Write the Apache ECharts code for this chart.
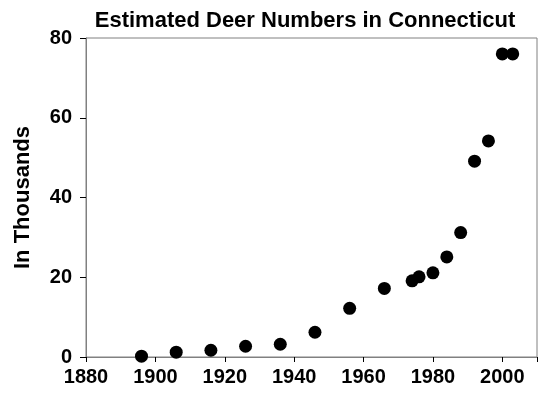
<!DOCTYPE html>
<html><head><meta charset="utf-8">
<script src="https://cdn.jsdelivr.net/npm/echarts@6/dist/echarts.min.js"></script>
<style>html,body{margin:0;padding:0;background:#fff}#c{width:540px;height:400px}</style>
</head><body><div id="c"></div>
<script>
const years = [1896, 1906, 1916, 1926, 1936, 1946, 1956, 1966, 1974, 1976, 1980, 1984, 1988, 1992, 1996, 2000, 2003];
const deer  = [0.2, 1.2, 1.7, 2.7, 3.2, 6.2, 12.2, 17.2, 19.1, 20.1, 21.1, 25.1, 31.2, 49.1, 54.2, 76, 76];
const titleText = 'Estimated Deer Numbers in Connecticut';
const yName = 'In Thousands';

const font = 'Arial, "Liberation Sans", sans-serif';
const chart = echarts.init(document.getElementById('c'));
chart.setOption({
  animation: false,
  title: { text: titleText, left: 300, top: 5, textAlign: 'center',
    textStyle: { fontFamily: font, fontWeight: 'bold', fontSize: 22, color: '#000' } },
  grid: { left: 86, right: 1, top: 38, bottom: 43, show: true, borderColor: '#808080', borderWidth: 1 },
  xAxis: { type: 'value', min: 1880, max: 2010, interval: 20,
    axisLine: { onZero: false, lineStyle: { color: '#808080', width: 1 } },
    axisTick: { show: true, length: 5, lineStyle: { color: '#000' } },
    splitLine: { show: false },
    axisLabel: { fontFamily: font, fontWeight: 'bold', fontSize: 20, color: '#000', margin: 10,
      formatter: v => v > 2000 ? '' : String(v) } },
  yAxis: { type: 'value', min: 0, max: 80, interval: 20,
    name: yName, nameLocation: 'middle', nameGap: 52, nameRotate: 90,
    nameTextStyle: { fontFamily: font, fontWeight: 'bold', fontSize: 22, color: '#000' },
    axisLine: { show: true, lineStyle: { color: '#808080', width: 1 } },
    axisTick: { show: true, length: 6, lineStyle: { color: '#000' } },
    splitLine: { show: false },
    axisLabel: { fontFamily: font, fontWeight: 'bold', fontSize: 20, color: '#000', margin: 14 } },
  series: [{ type: 'scatter', data: years.map((y, i) => [y, deer[i]]),
    symbol: 'circle', symbolSize: 13, itemStyle: { color: '#000', opacity: 1 } }]
});
</script></body></html>
